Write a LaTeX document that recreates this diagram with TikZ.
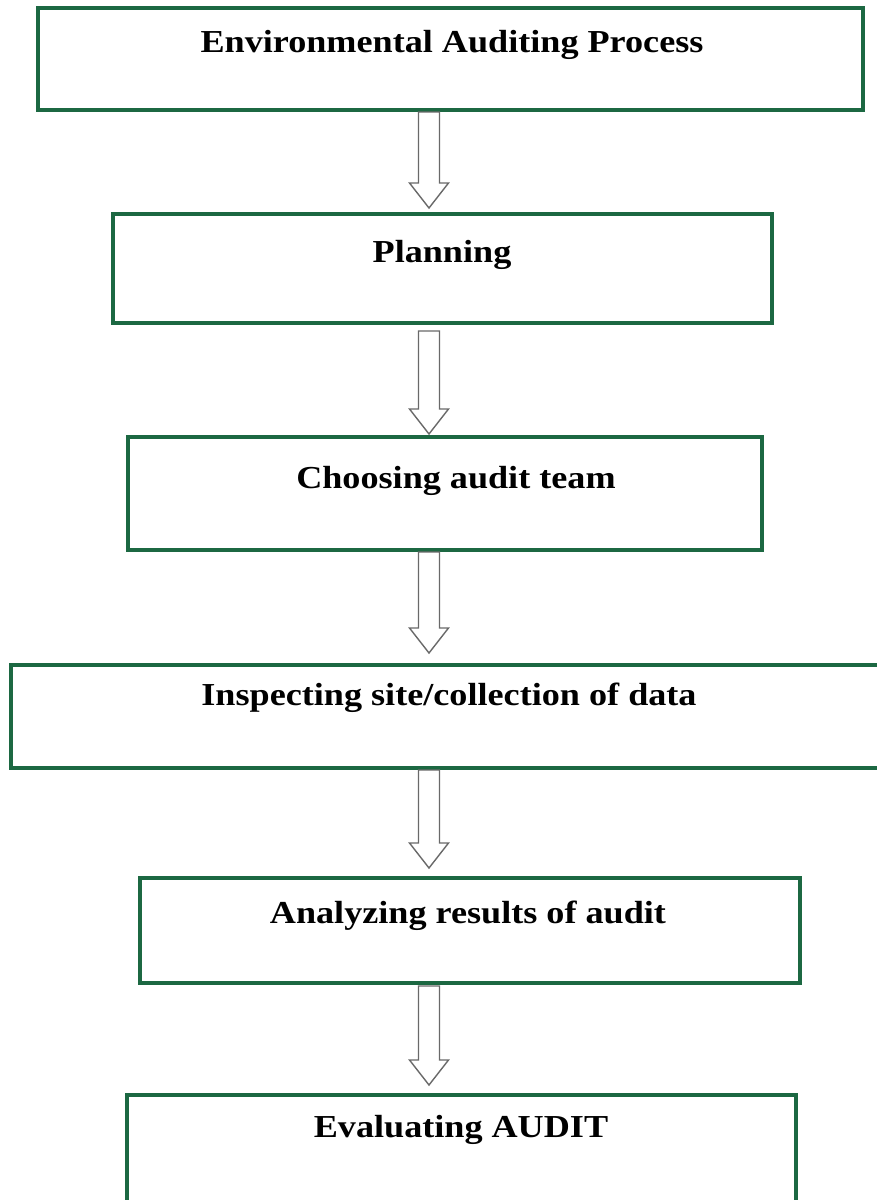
\documentclass[tikz,border=0pt]{standalone}
\usepackage{fontspec}
\setmainfont{Liberation Serif}[FakeStretch=1.13]
\usetikzlibrary{calc}
\definecolor{boxgreen}{RGB}{28,104,66}
\definecolor{arrowgray}{RGB}{105,105,105}
\tikzset{
  stepbox/.style={draw=boxgreen, line width=3.6pt, fill=white, inner sep=0pt, outer sep=0pt, rectangle},
  steplabel/.style={anchor=base, inner sep=0pt, font=\fontsize{32}{34}\selectfont\bfseries},
  harrow/.style={draw=arrowgray, line width=1.4pt, fill=white, line join=miter}
}
\newcommand{\hollowarrow}[4]{%
  \draw[harrow] let \p1=(#1.south), \p2=(#2.north), \p3=(ax) in
    (\x3-10.5pt,\y1-#3) -- (\x3-10.5pt,\y2+#4+25pt) -- (\x3-19.5pt,\y2+#4+25pt)
    -- (\x3,\y2+#4) -- (\x3+19.5pt,\y2+#4+25pt) -- (\x3+10.5pt,\y2+#4+25pt)
    -- (\x3+10.5pt,\y1-#3) -- cycle;}
\begin{document}
\begin{tikzpicture}[x=1pt,y=-1pt]
\useasboundingbox (0,0) rectangle (877,1200);
\fill[white] (0,0) rectangle (877,1200);
\coordinate (ax) at (429,0);
% boxes
\node[stepbox, minimum width=825pt, minimum height=102pt] (b1) at (450.5,59) {};
\node[stepbox, minimum width=659pt, minimum height=109pt] (b2) at (442.5,268.5) {};
\node[stepbox, minimum width=634pt, minimum height=113pt] (b3) at (445,493.5) {};
\node[stepbox, minimum width=874pt, minimum height=103pt] (b4) at (448,716.5) {};
\node[stepbox, minimum width=660pt, minimum height=105pt] (b5) at (470,930.5) {};
\node[stepbox, minimum width=669pt, minimum height=115pt] (b6) at (461.5,1152.5) {};
% labels
\node[steplabel] (l1) at (452,52) {Environmental Auditing Process};
\node[steplabel] (l2) at (442,262) {Planning};
\node[steplabel] (l3) at (456,488) {Choosing audit team};
\node[steplabel] (l4) at (449,705) {Inspecting site/collection of data};
\node[steplabel] (l5) at (468,923) {Analyzing results of audit};
\node[steplabel] (l6) at (461,1137) {Evaluating AUDIT};
% arrows
\hollowarrow{b1}{b2}{2pt}{6pt}
\hollowarrow{b2}{b3}{8pt}{3pt}
\hollowarrow{b3}{b4}{2pt}{12pt}
\hollowarrow{b4}{b5}{2pt}{10pt}
\hollowarrow{b5}{b6}{3pt}{10pt}
\end{tikzpicture}
\end{document}
